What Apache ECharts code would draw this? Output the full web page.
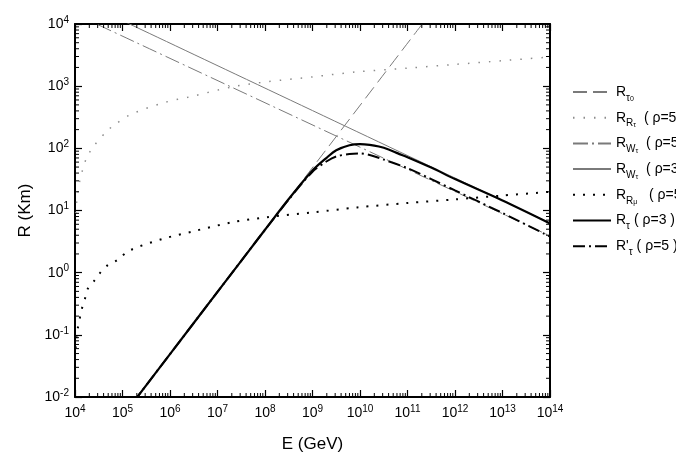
<!DOCTYPE html>
<html><head><meta charset="utf-8">
<script src="https://cdn.jsdelivr.net/npm/echarts@6/dist/echarts.min.js"></script>
<style>html,body{margin:0;padding:0;background:#fff}#c{width:676px;height:470px}</style>
</head><body><div id="c"></div>
<script>
// ---- data (energies in GeV, ranges in km) ----
const xMin = 1e4, xMax = 1e14, yMin = 1e-2, yMax = 1e4;

const E_tau0 = [1e5, 2e11];
const R_tau0 = [4.9e-3, 9800];

const E_RRtau = [1.03e4, 1.08e4, 1.15e4, 1.27e4, 1.48e4, 1.78e4, 2.4e4, 4.7e4, 6.9e4, 1.45e5, 7.1e5, 3e6, 2.1e7, 1.1e8, 1e9, 8.7e9, 1e11, 1e12, 1e13, 1e14];
const R_RRtau = [9.0, 13.5, 20, 31, 48, 72, 105, 190, 240, 347, 537, 690, 977, 1175, 1410, 1700, 1950, 2240, 2570, 2950];

const E_RWtau5 = [1e4, 1e14];
const R_RWtau5 = [1.45e4, 3.9];

const E_RWtau3 = [1e4, 1e14];
const R_RWtau3 = [2.6e4, 6.3];

const E_RRmu = [1.03e4, 1.08e4, 1.15e4, 1.41e4, 1.62e4, 1.86e4, 2.6e4, 3.4e4, 4.9e4, 7.6e4, 1.45e5, 7.1e5, 3e6, 2.1e7, 1.1e8, 1e9, 8.7e9, 1e11, 1e12, 1e13, 1e14];
const R_RRmu = [0.061, 0.091, 0.13, 0.27, 0.38, 0.55, 0.76, 1.0, 1.32, 1.58, 2.3, 3.5, 4.6, 6.5, 7.8, 9.3, 11.2, 13.2, 15.1, 17.4, 20];

const E_Rtau = [1.7e5, 1e6, 1e7, 1e8, 3.16e8, 1e9, 2e9, 3.16e9, 6e9, 1e10, 1.6e10, 2.5e10, 4e10, 6.3e10, 1e11, 3.16e11, 1e12, 1e13, 1e14];
const R_Rtau = [0.0083, 0.049, 0.49, 4.9, 15.3, 44, 71, 93, 112, 117, 114, 107, 96, 83, 72, 49, 32, 14.5, 6.2];

const E_Rptau = [1.7e5, 1e6, 1e7, 1e8, 3.16e8, 1e9, 2e9, 3.16e9, 6e9, 1e10, 1.6e10, 3.16e10, 1e11, 3.16e11, 1e12, 1e13, 1e14];
const R_Rptau = [0.0083, 0.049, 0.49, 4.9, 15, 42, 62, 74, 81, 83, 78, 66, 48, 32, 21, 9.1, 3.8];

const xTickExps = [4, 5, 6, 7, 8, 9, 10, 11, 12, 13, 14];
const yTickExps = [-2, -1, 0, 1, 2, 3, 4];

const legendNames = ['Rt0', 'RRt', 'RWt5', 'RWt3', 'RRm', 'Rt', 'Rpt'];
const legendTexts = {
  Rt0:  '{m|R}{s|τ}{ss|0}',
  RRt:  '{m|R}{s|R}{ss|τ}{m|  ( ρ=5 )}',
  RWt5: '{m|R}{s|W}{ss|τ}{m|  ( ρ=5 )}',
  RWt3: '{m|R}{s|W}{ss|τ}{m|  ( ρ=3 )}',
  RRm:  '{m|R}{s|R}{ss|μ}{m|   ( ρ=5 )}',
  Rt:   '{m|R}{s|τ}{m| ( ρ=3 )}',
  Rpt:  '{m|R\'}{s|τ}{m| ( ρ=5 )}'
};

// ---- build ----
const zip = (a, b) => a.map((v, i) => [v, b[i]]);
const minorX = [], minorY = [];
for (let k = xTickExps[0]; k < xTickExps[xTickExps.length - 1]; k++) for (let m = 2; m <= 9; m++) minorX.push([m * Math.pow(10, k), yMin]);
for (let k = yTickExps[0]; k < yTickExps[yTickExps.length - 1]; k++) for (let m = 2; m <= 9; m++) minorY.push([xMin, m * Math.pow(10, k)]);

const FONT = 'Liberation Sans';
const supFmt = v => {
  const e = Math.round(Math.log10(v));
  return '{b|10}{p|' + e + '}';
};
const axisRich = {
  b: { fontSize: 14, fontFamily: FONT, color: '#000', lineHeight: 18, verticalAlign: 'middle' },
  p: { fontSize: 10, fontFamily: FONT, color: '#000', lineHeight: 9, verticalAlign: 'top' }
};
const baseAxis = {
  type: 'log', logBase: 10, interval: 1,
  axisLine: { show: true, onZero: false, lineStyle: { color: '#000', width: 2 } },
  axisTick: { show: true, inside: true, length: 7, lineStyle: { color: '#000', width: 1.2 } },
  splitLine: { show: false }, minorTick: { show: false }
};

const thinGray = '#7a7a7a';
function line(name, E, R, style, z) {
  return {
    name, type: 'line', data: zip(E, R), symbol: 'none', smooth: 0.3,
    itemStyle: { color: style.color },
    lineStyle: style, z: z || 2, xAxisIndex: 0, yAxisIndex: 0, silent: true
  };
}

const chart = echarts.init(document.getElementById('c'), null, { renderer: 'canvas' });
chart.setOption({
  animation: false,
  backgroundColor: '#fff',
  grid: { left: 75, right: 126, top: 24, bottom: 73, containLabel: false },
  xAxis: [
    Object.assign({}, baseAxis, {
      min: xMin, max: xMax, position: 'bottom',
      name: 'E (GeV)', nameLocation: 'middle', nameGap: 39,
      nameTextStyle: { fontFamily: FONT, fontSize: 17, color: '#000' },
      axisLabel: { show: true, margin: 7, formatter: supFmt, rich: axisRich }
    }),
    Object.assign({}, baseAxis, { min: xMin, max: xMax, position: 'top', axisLabel: { show: false } })
  ],
  yAxis: [
    Object.assign({}, baseAxis, {
      min: yMin, max: yMax, position: 'left',
      name: 'R (Km)', nameLocation: 'middle', nameGap: 19, nameRotate: 90,
      nameTextStyle: { fontFamily: FONT, fontSize: 17, color: '#000' },
      axisLabel: { show: true, margin: 6, formatter: supFmt, rich: axisRich }
    }),
    Object.assign({}, baseAxis, { min: yMin, max: yMax, position: 'right', axisLabel: { show: false } })
  ],
  legend: {
    data: legendNames,
    orient: 'vertical', left: 567, top: 79,
    itemWidth: 38, itemHeight: 20, itemGap: 6.7,
    itemStyle: { opacity: 0 },
    formatter: n => legendTexts[n],
    textStyle: {
      padding: [0, 0, 0, 0],
      rich: {
        m: { fontSize: 14, fontFamily: FONT, color: '#000', lineHeight: 22, verticalAlign: 'middle' },
        s: { fontSize: 10, fontFamily: FONT, color: '#000', lineHeight: 13, verticalAlign: 'bottom' },
        ss: { fontSize: 7, fontFamily: FONT, color: '#000', lineHeight: 7, verticalAlign: 'bottom' }
      }
    },
    selectedMode: false
  },
  series: [
    line('Rt0', E_tau0, R_tau0, { color: thinGray, width: 1, type: [14, 6] }, 2),
    line('RRt', E_RRtau, R_RRtau, { color: '#8c8c8c', width: 1.5, type: [1.5, 9], cap: 'butt' }, 2),
    line('RWt5', E_RWtau5, R_RWtau5, { color: thinGray, width: 1, type: [15, 4, 2, 4] }, 2),
    line('RWt3', E_RWtau3, R_RWtau3, { color: thinGray, width: 1 }, 2),
    line('RRm', E_RRmu, R_RRmu, { color: '#000', width: 2, type: [2, 8], cap: 'butt' }, 3),
    line('Rt', E_Rtau, R_Rtau, { color: '#000', width: 2.2 }, 5),
    line('Rpt', E_Rptau, R_Rptau, { color: '#000', width: 2, type: [12, 4, 2, 4] }, 4),
    {
      type: 'custom', silent: true, z: 10, clip: false, data: minorX, encode: { x: 0, y: 1 },
      renderItem: (p, api) => {
        const v = api.value(0);
        const b = api.coord([v, yMin]), t = api.coord([v, yMax]);
        const st = { stroke: '#000', lineWidth: 1 };
        return { type: 'group', children: [
          { type: 'line', shape: { x1: b[0], y1: b[1], x2: b[0], y2: b[1] - 4 }, style: st },
          { type: 'line', shape: { x1: t[0], y1: t[1], x2: t[0], y2: t[1] + 4 }, style: st }
        ] };
      }
    },
    {
      type: 'custom', silent: true, z: 10, clip: false, data: minorY, encode: { x: 0, y: 1 },
      renderItem: (p, api) => {
        const v = api.value(1);
        const l = api.coord([xMin, v]), r = api.coord([xMax, v]);
        const st = { stroke: '#000', lineWidth: 1 };
        return { type: 'group', children: [
          { type: 'line', shape: { x1: l[0], y1: l[1], x2: l[0] + 4, y2: l[1] }, style: st },
          { type: 'line', shape: { x1: r[0], y1: r[1], x2: r[0] - 4, y2: r[1] }, style: st }
        ] };
      }
    }
  ]
});
</script>
</body></html>
